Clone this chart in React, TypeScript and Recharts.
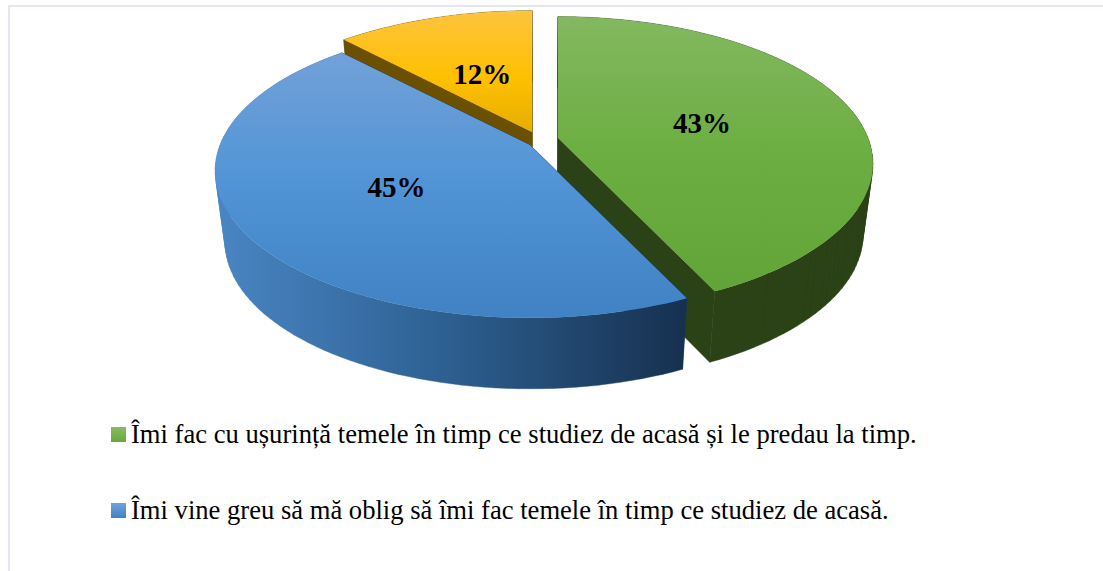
import { PieChart, Pie, Legend } from 'recharts';

// drawn back to front: yellow, green, blue
const sliceNames = ['', 'Îmi fac cu ușurință temele în timp ce studiez de acasă și le predau la timp.', 'Îmi vine greu să mă oblig să îmi fac temele în timp ce studiez de acasă.'];
const sliceValues = [12, 43, 45];
const sliceKeys = ['yellow', 'green', 'blue'];

const tableData = sliceNames.map((name, i) => ({ name, value: sliceValues[i], id: i, fill: `url(#top-${sliceKeys[i]})` }));

const WIDTH = 1103;
const HEIGHT = 571;
const SERIF = '"Liberation Serif", "Times New Roman", serif';

// fake 3D: perspective tilt of the disc plus a wall under it
const TILT = 0.46;
const PERSPECTIVE = 0.175;
const DEPTH = 71;
const BOTTOM_SCALE = 0.97;
const VANISH_X = 543;
const EXPLODE = [
  { dx: 0, dy: -13 },
  { dx: 26, dy: -7 },
  { dx: -2, dy: 0 },
];
const LABEL_RADIUS = [0.47, 0.485, 0.495];
const WALL_FILL = ['#6b5000', '#2b4216', 'url(#side-blue)'];
const EDGE_FILL = ['#6b5000', '#2b4216', '#1a3a5c'];

const project = (cx: number, cy: number, R: number, angle: number, r: number) => {
  const t = ((90 - angle) * Math.PI) / 180;
  const u = r * Math.sin(t);
  const v = r * Math.cos(t);
  const w = 1 + PERSPECTIVE * v;
  return [cx + (R * u) / w, cy - (R * TILT * v) / w];
};

const drop = (p: number[]) => [VANISH_X + (p[0] - VANISH_X) * BOTTOM_SCALE, p[1] + DEPTH];
const pt = (p: number[]) => `${p[0].toFixed(1)} ${p[1].toFixed(1)}`;

// all strips wound the same way, otherwise they cancel where they overlap
const strip = (a: number[], b: number[]) => {
  const quad = [a, b, drop(b), drop(a)];
  let area = 0;
  quad.forEach((p, i) => {
    const q = quad[(i + 1) % 4];
    area += p[0] * q[1] - q[0] * p[1];
  });
  const ordered = area < 0 ? [...quad].reverse() : quad;
  return `M${ordered.map(pt).join('L')}Z`;
};

const Slice3D = (props: any) => {
  const { cx, cy, outerRadius, startAngle, endAngle, id, fill } = props;
  const { dx, dy } = EXPLODE[id];
  const ox = cx + dx;
  const oy = cy + dy;
  const steps = 90;
  const arc: number[][] = [];
  for (let i = 0; i <= steps; i++) {
    arc.push(project(ox, oy, outerRadius, startAngle + ((endAngle - startAngle) * i) / steps, 1));
  }
  const apex = [ox, oy];
  const top = `M${pt(apex)}L${arc.map(pt).join('L')}Z`;
  const edges = strip(apex, arc[0]) + strip(apex, arc[steps]);
  let wall = '';
  for (let i = 0; i < steps; i++) {
    wall += strip(arc[i], arc[i + 1]);
  }
  return (
    <g>
      <path d={edges} fill={EDGE_FILL[id]} stroke={EDGE_FILL[id]} strokeWidth={0.6} />
      <path d={wall} fill={WALL_FILL[id]} stroke={WALL_FILL[id]} strokeWidth={0.4} />
      <path d={top} fill={fill} />
    </g>
  );
};

const renderPercent = (props: any) => {
  const { cx, cy, outerRadius, midAngle, value, id } = props;
  const { dx, dy } = EXPLODE[id];
  const [x, y] = project(cx + dx, cy + dy, outerRadius, midAngle, LABEL_RADIUS[id]);
  return (
    <text x={x} y={y} textAnchor="middle" dominantBaseline="central" fontFamily={SERIF} fontWeight="bold" fontSize={29} fill="#000">
      {`${value}%`}
    </text>
  );
};

const renderLegend = ({ payload }: any) => (
  <div>
    {(payload || [])
      .filter((entry: any) => entry.value)
      .map((entry: any, i: number) => (
        <div key={entry.value} style={{ position: 'absolute', left: 111, top: i === 0 ? 415 : 491, display: 'flex', alignItems: 'center', height: 38, whiteSpace: 'nowrap', fontFamily: SERIF, fontSize: 26.6, color: '#000' }}>
          <span style={{ width: 15, height: 15, marginRight: 5, background: i === 0 ? 'linear-gradient(#86bb62, #66a83b)' : 'linear-gradient(#6fa3dc, #3f80c4)' }} />
          {entry.value}
        </div>
      ))}
  </div>
);

export default function App() {
  return (
    <div style={{ position: 'absolute', left: 0, top: 0, width: WIDTH, height: HEIGHT, background: '#fff', overflow: 'hidden' }}>
      <div style={{ position: 'absolute', left: 8, top: 5, right: 0, bottom: 0, borderTop: '2px solid #e3e8ef', borderLeft: '2px solid #e3e8ef' }} />
      <PieChart width={WIDTH} height={HEIGHT} margin={{ top: 0, right: 0, bottom: 0, left: 0 }} style={{ position: 'absolute', left: 0, top: 0 }}>
        <defs>
          <linearGradient id="top-green" x1="0" y1="0" x2="0" y2="1">
            <stop offset="0" stopColor="#83b860" />
            <stop offset="0.5" stopColor="#6cae41" />
            <stop offset="1" stopColor="#62a438" />
          </linearGradient>
          <linearGradient id="top-blue" x1="0" y1="0" x2="0" y2="1">
            <stop offset="0" stopColor="#72a1d8" />
            <stop offset="0.5" stopColor="#5094d6" />
            <stop offset="1" stopColor="#4082c4" />
          </linearGradient>
          <linearGradient id="top-yellow" x1="0" y1="0" x2="0" y2="1">
            <stop offset="0" stopColor="#fdc43f" />
            <stop offset="0.55" stopColor="#ffc000" />
            <stop offset="1" stopColor="#e6ae00" />
          </linearGradient>
          <linearGradient id="side-blue" x1="0" y1="0" x2="1" y2="0">
            <stop offset="0" stopColor="#4a86c4" />
            <stop offset="0.45" stopColor="#2f6396" />
            <stop offset="1" stopColor="#16304f" />
          </linearGradient>
        </defs>
        <Pie
          data={tableData}
          dataKey="value"
          nameKey="name"
          cx={532}
          cy={145}
          outerRadius={310}
          startAngle={133.2}
          endAngle={-226.8}
          stroke="none"
          shape={Slice3D}
          label={renderPercent}
          labelLine={false}
          isAnimationActive={false}
        />
        <Legend content={renderLegend} wrapperStyle={{ position: 'absolute', left: 0, top: 0, bottom: 'auto', width: WIDTH, height: 0 }} />
      </PieChart>
    </div>
  );
}
